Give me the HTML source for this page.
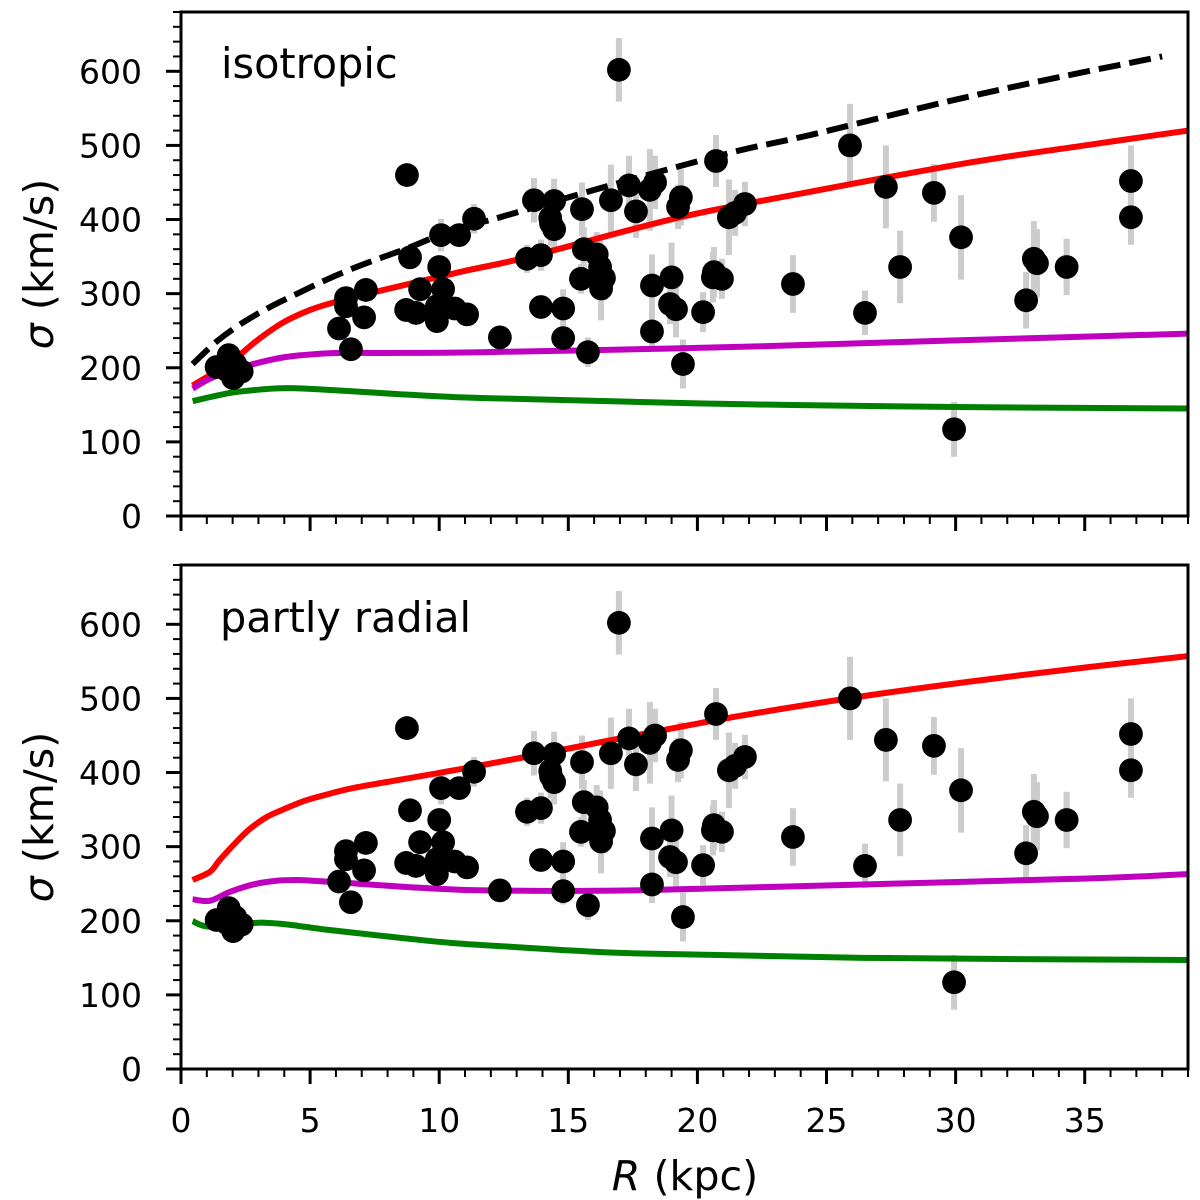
<!DOCTYPE html>
<html lang="en">
<head>
<meta charset="utf-8">
<title>Velocity dispersion profiles</title>
<style>
html,body{margin:0;padding:0;background:#fff;width:1200px;height:1200px;overflow:hidden}
svg{display:block}
text{font-family:"DejaVu Sans","Liberation Sans",sans-serif;fill:#000}
</style>
</head>
<body>
<svg id="chart" xmlns="http://www.w3.org/2000/svg" width="1200" height="1200" viewBox="0 0 1200 1200">
<rect width="1200" height="1200" fill="#fff"/>
<defs>
<clipPath id="clip-top"><rect x="181" y="12" width="1007" height="504"/></clipPath>
<clipPath id="clip-bottom"><rect x="181" y="565" width="1007" height="504"/></clipPath>
</defs>
</svg>
<script>
// Tracer data
const radii = [1.38,1.85,2.35,2.02,1.77,2.1,6.12,6.39,6.39,6.58,7.09,7.16,8.72,8.87,9.1,9.26,9.91,9.91,10.0,10.15,10.07,10.6,10.77,11.08,11.35,12.35,13.4,13.67,13.94,13.94,14.45,14.3,14.33,14.45,14.8,14.8,15.53,15.49,15.6,15.76,16.1,16.23,16.38,16.27,16.65,16.96,17.35,17.62,18.16,18.36,18.24,18.24,19.0,18.94,19.17,19.36,19.25,19.44,20.22,20.6,20.64,20.72,20.95,21.22,21.46,21.84,23.7,25.91,26.49,27.3,27.85,29.16,29.94,30.21,32.73,33.03,33.15,34.3,36.79,36.79,8.75];
const sigmas = [201,217,195,186,197,205,253,294,283,225,268,305,278,349,274,306,283,263,336,306,379,280,379,272,401,241,347,426,282,352,425,402,395,387,280,240,414,320,360,221,353,336,321,307,426,602,446,411,440,450,311,249,322,286,279,430,417,205,275,322,329,479,320,403,409,421,313,500,274,444,336,436,117,376,291,347,341,336,452,403,460];
const sigmaErrors = [6,6,6,6,6,6,8,10,10,10,10,10,8,10,10,10,10,12,12,12,22,8,10,10,20,15,19,30,15,21,30,30,30,30,26,18,36,20,30,20,30,40,30,43,48,43,40,36,55,36,42,25,47,27,38,38,30,33,27,34,34,35,27,51,31,30,39,56,30,56,49,39,37,57,38,51,46,38,48,37,8];

// Model curves, top panel (isotropic)
const isoDashedR = [0.45,1.4,2.4,3.45,4.5,5.65,6.8,7.8,8.9,10.1,11.58,12.35,16.92,21.38,24.36,29.78,34,38];
const isoDashedS = [205,236,261,282,300,319,336,349,363,380,396,403,449,491,514,560,592,620];
const isoRedR = [0.45,1.9,2.95,3.95,5,5.9,7.6,10.9,13.4,19.2,24,30.4,35,39];
const isoRedS = [176,207,237,261,278,288,303,330,349,402,435,476,500,520];
const isoPurpleR = [0.45,1.1,1.9,2.8,3.8,4.7,6,8,11.6,19,24.4,30,39];
const isoPurpleS = [172,185,196,205,213,217,220,220,221,226,231,237,246];
const isoGreenR = [0.45,1.9,3.2,4.2,5.8,8.4,10.9,13.4,20,24,30,39];
const isoGreenS = [155,166,171,172.5,170,164.5,160,157.7,152,149.6,147,145];

// Model curves, bottom panel (partly radial)
const radRedR = [0.45,1.12,1.5,2.15,2.67,3.32,3.95,4.72,5.5,6.66,8.6,9.92,12.74,20.77,26.03,30.4,35.1,39];
const radRedS = [255,266,282,306.5,324,340,350,361,369,379,391,399,417,471,501,522,542,557];
const radPurpleR = [0.45,1.12,1.9,2.8,3.7,4.5,5.1,6.04,7.3,9.25,11.85,17.5,26.4,35.1,39];
const radPurpleS = [229,227,239,249,254,255,254,252,249,244.5,241,241,249,257,263];
const radGreenR = [0.45,1.12,2.8,3.45,4.35,5.4,6.66,8.6,10.5,12.74,17.6,26.4,39];
const radGreenS = [199.5,192,197,197,194,189,184,176.6,170,165,156,150,147];

// Axes
const xMajorTicks = [0,5,10,15,20,25,30,35];
const xMinorTicks = [1,2,3,4,6,7,8,9,11,12,13,14,16,17,18,19,21,22,23,24,26,27,28,29,31,32,33,34,36,37,38,39];
const yMajorTicks = [0,100,200,300,400,500,600];
const yMinorTicks = [20,40,60,80,120,140,160,180,220,240,260,280,320,340,360,380,420,440,460,480,520,540,560,580,620,640,660,680];

const SVGNS = 'http://www.w3.org/2000/svg';
const svg = document.getElementById('chart');
const xScale = r => 181 + r * (1007 / 39);
function yScaleFor(bottom){ return s => bottom - s * (504 / 680); }

function make(tag, attrs, parent){
  const el = document.createElementNS(SVGNS, tag);
  for (const k in attrs) el.setAttribute(k, attrs[k]);
  parent.appendChild(el);
  return el;
}
function smoothPath(xs, ys){
  let d = 'M' + xs[0].toFixed(2) + ' ' + ys[0].toFixed(2);
  for (let i = 0; i < xs.length - 1; i++){
    const i0 = Math.max(i - 1, 0), i3 = Math.min(i + 2, xs.length - 1);
    const c1x = xs[i] + (xs[i+1] - xs[i0]) / 6, c1y = ys[i] + (ys[i+1] - ys[i0]) / 6;
    const c2x = xs[i+1] - (xs[i3] - xs[i]) / 6, c2y = ys[i+1] - (ys[i3] - ys[i]) / 6;
    d += 'C' + c1x.toFixed(2) + ' ' + c1y.toFixed(2) + ' ' + c2x.toFixed(2) + ' ' + c2y.toFixed(2) + ' ' + xs[i+1].toFixed(2) + ' ' + ys[i+1].toFixed(2);
  }
  return d;
}

function drawCurve(group, yScale, rs, ss, color, name, dash){
  const path = make('path', {
    d: smoothPath(rs.map(xScale), ss.map(yScale)),
    fill: 'none', stroke: color, 'stroke-width': 6, 'stroke-linejoin': 'round'
  }, group);
  if (dash) path.setAttribute('stroke-dasharray', dash);
  
  
}

function drawPanel(prefix, top, bottom, clipId, curves, title, titleX, titleY, showXLabels){
  const yScale = yScaleFor(bottom);
  const panel = make('g', {}, svg);
  
  

  const plot = make('g', {'clip-path': 'url(#' + clipId + ')'}, panel);
  
  

  radii.forEach((r, i) => {
    const bar = make('line', {
      x1: xScale(r), x2: xScale(r),
      y1: yScale(sigmas[i] - sigmaErrors[i]), y2: yScale(sigmas[i] + sigmaErrors[i]),
      stroke: '#cccccc', 'stroke-width': 6
    }, plot);
    
    
  });

  curves.forEach(c => drawCurve(plot, yScale, c.rs, c.ss, c.color, c.name, c.dash));

  radii.forEach((r, i) => {
    const dot = make('circle', {cx: xScale(r), cy: yScale(sigmas[i]), r: 11.9, fill: '#000'}, plot);
    
    
  });

  const frame = make('rect', {x: 181, y: top, width: 1007, height: bottom - top, fill: 'none', stroke: '#000', 'stroke-width': 3}, panel);
  
  

  xMajorTicks.forEach(v => {
    const t = make('line', {x1: xScale(v), x2: xScale(v), y1: bottom, y2: bottom + 15, stroke: '#000', 'stroke-width': 3}, panel);
    
    
    if (showXLabels){
      const lab = make('text', {x: xScale(v), y: bottom + 63, 'font-size': 33, 'text-anchor': 'middle'}, panel);
      lab.textContent = String(v);
      
      
    }
  });
  xMinorTicks.forEach(v => {
    const t = make('line', {x1: xScale(v), x2: xScale(v), y1: bottom, y2: bottom + 8, stroke: '#000', 'stroke-width': 2}, panel);
    
    
  });
  yMajorTicks.forEach(v => {
    const t = make('line', {x1: 166, x2: 181, y1: yScale(v), y2: yScale(v), stroke: '#000', 'stroke-width': 3}, panel);
    
    
    const lab = make('text', {x: 142, y: yScale(v) + 12, 'font-size': 33, 'text-anchor': 'end'}, panel);
    lab.textContent = String(v);
    
    
  });
  yMinorTicks.forEach(v => {
    const t = make('line', {x1: 173, x2: 181, y1: yScale(v), y2: yScale(v), stroke: '#000', 'stroke-width': 2}, panel);
    
    
  });

  const cy = (top + bottom) / 2;
  const yTitle = make('text', {x: 0, y: 0, 'font-size': 41.2, 'text-anchor': 'middle', transform: 'translate(53 ' + cy + ') rotate(-90)'}, panel);
  const sig = make('tspan', {'font-style': 'italic'}, yTitle);
  sig.textContent = 'σ';
  const rest = make('tspan', {}, yTitle);
  rest.textContent = ' (km/s)';
  
  

  const tt = make('text', {x: titleX, y: titleY, 'font-size': 41.4}, panel);
  tt.textContent = title;
  
  
}

drawPanel('isotropic', 12, 516, 'clip-top', [
  {rs: isoDashedR, ss: isoDashedS, color: '#000', name: 'isotropic-dashed-curve', dash: '22 9'},
  {rs: isoRedR, ss: isoRedS, color: '#ff0000', name: 'isotropic-red-curve'},
  {rs: isoPurpleR, ss: isoPurpleS, color: '#bf00bf', name: 'isotropic-magenta-curve'},
  {rs: isoGreenR, ss: isoGreenS, color: '#008000', name: 'isotropic-green-curve'}
], 'isotropic', 221, 78, false);

drawPanel('partly-radial', 565, 1069, 'clip-bottom', [
  {rs: radRedR, ss: radRedS, color: '#ff0000', name: 'radial-red-curve'},
  {rs: radPurpleR, ss: radPurpleS, color: '#bf00bf', name: 'radial-magenta-curve'},
  {rs: radGreenR, ss: radGreenS, color: '#008000', name: 'radial-green-curve'}
], 'partly radial', 220, 632, true);

const xTitle = make('text', {x: 685, y: 1190, 'font-size': 41.2, 'text-anchor': 'middle'}, svg);
const xTitleVar = make('tspan', {'font-style': 'italic'}, xTitle);
xTitleVar.textContent = 'R';
const xTitleUnit = make('tspan', {}, xTitle);
xTitleUnit.textContent = ' (kpc)';


</script>
</body>
</html>
